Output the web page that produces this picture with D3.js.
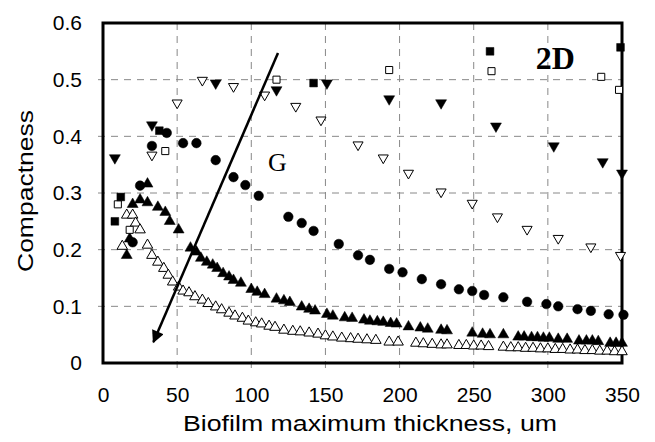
<!DOCTYPE html>
<html>
<head>
<meta charset="utf-8">
<script src="https://cdn.jsdelivr.net/npm/d3@7"></script>
<style>
  body { margin: 0; background: #fff; }
  svg { display: block; }
</style>
</head>
<body>
<div id="chart"></div>
<script>
// values: [thickness (um), compactness]
var sqFilled = [[8,0.25],[12,0.293],[38,0.41],[142,0.494],[261,0.55],[349,0.557]];
var sqOpen = [[10,0.28],[18,0.235],[42,0.374],[117,0.50],[193,0.517],[262,0.515],[336,0.505],[348,0.482]];
var triDownFilled = [[8,0.362],[33,0.42],[76,0.494],[117,0.482],[151,0.494],[193,0.466],[228,0.459],[265,0.418],[304,0.383],[337,0.355],[350,0.335]];
var triDownOpen = [[33,0.367],[50,0.459],[67,0.499],[88,0.488],[109,0.473],[130,0.453],[147,0.429],[172,0.385],[189,0.362],[206,0.335],[228,0.302],[249,0.282],[266,0.258],[286,0.236],[307,0.22],[329,0.205],[349,0.19]];
var circles = [[20,0.213],[25,0.313],[33,0.383],[43,0.406],[54,0.388],[63,0.388],[76,0.358],[88,0.328],[96,0.314],[105,0.295],[125,0.258],[134,0.247],[142,0.233],[159,0.21],[172,0.19],[180,0.182],[193,0.166],[202,0.16],[215,0.148],[228,0.139],[240,0.13],[249,0.127],[257,0.12],[270,0.116],[286,0.108],[299,0.104],[307,0.1],[320,0.095],[329,0.092],[341,0.086],[351,0.085]];
var triUpFilled = [[16,0.19],[18,0.219],[20,0.28],[25,0.288],[30,0.316],[30,0.283],[37,0.275],[42,0.266],[45,0.25],[51,0.235],[59,0.203],[63,0.196],[66,0.185],[70,0.178],[74,0.173],[77,0.167],[81,0.158],[85,0.152],[88,0.146],[93,0.141],[100,0.13],[104,0.125],[109,0.121],[117,0.113],[122,0.11],[126,0.107],[134,0.099],[139,0.095],[143,0.092],[151,0.086],[155,0.083],[163,0.08],[168,0.079],[176,0.076],[180,0.074],[185,0.073],[189,0.072],[194,0.07],[198,0.069],[206,0.064],[214,0.062],[219,0.06],[228,0.058],[232,0.057],[249,0.053],[256,0.051],[261,0.05],[270,0.05],[280,0.046],[284,0.046],[289,0.045],[293,0.045],[297,0.044],[301,0.044],[307,0.042],[313,0.042],[321,0.039],[326,0.039],[330,0.039],[334,0.038],[342,0.035],[346,0.035],[350,0.035]];
var triUpOpen = [[13,0.206],[16,0.261],[20,0.261],[22,0.247],[25,0.235],[30,0.208],[33,0.19],[37,0.178],[41,0.167],[44,0.155],[47,0.143],[51,0.134],[54,0.127],[58,0.124],[62,0.117],[67,0.111],[71,0.105],[76,0.099],[80,0.094],[85,0.088],[89,0.083],[94,0.079],[98,0.074],[103,0.071],[107,0.069],[112,0.065],[116,0.063],[122,0.058],[128,0.056],[133,0.055],[139,0.053],[145,0.051],[150,0.048],[155,0.046],[161,0.044],[167,0.043],[172,0.042],[178,0.041],[184,0.04],[193,0.037],[199,0.037],[211,0.035],[216,0.034],[222,0.033],[228,0.032],[232,0.032],[240,0.031],[245,0.031],[250,0.03],[255,0.03],[260,0.029],[270,0.028],[275,0.027],[280,0.027],[285,0.026],[290,0.026],[295,0.025],[300,0.025],[305,0.024],[310,0.024],[315,0.023],[320,0.023],[325,0.022],[330,0.022],[335,0.021],[340,0.021],[345,0.02],[350,0.02]];

var xTicks = [0, 50, 100, 150, 200, 250, 300, 350];
var yTicks = [0, 0.1, 0.2, 0.3, 0.4, 0.5, 0.6];
var arrowFrom = [118, 0.547], arrowTo = [34, 0.037];

var W = 655, H = 442;
var margin = {top: 23, right: 33, bottom: 79, left: 103},
    width = W - margin.left - margin.right,
    height = H - margin.top - margin.bottom;

var svg = d3.select("#chart").append("svg").attr("width", W).attr("height", H);
var g = svg.append("g").attr("transform", "translate(" + margin.left + "," + margin.top + ")");

var x = d3.scaleLinear().domain([0, 350]).range([0, width]);
var y = d3.scaleLinear().domain([0, 0.6]).range([height, 0]);

// dashed grid
g.append("g").selectAll("line").data(xTicks.slice(1, -1)).enter().append("line")
  .attr("x1", function (d) { return x(d); }).attr("x2", function (d) { return x(d); })
  .attr("y1", 0).attr("y2", height + 5)
  .attr("stroke", "#888").attr("stroke-width", 1).attr("stroke-dasharray", "7,6");
g.append("g").selectAll("line").data(yTicks.slice(1, -1)).enter().append("line")
  .attr("x1", -5).attr("x2", width)
  .attr("y1", function (d) { return y(d); }).attr("y2", function (d) { return y(d); })
  .attr("stroke", "#888").attr("stroke-width", 1).attr("stroke-dasharray", "7,6");

// axes
var xAxis = g.append("g").attr("transform", "translate(0," + height + ")")
  .call(d3.axisBottom(x).tickValues(xTicks).tickSize(0).tickPadding(24).tickFormat(d3.format("d")));
var yAxis = g.append("g")
  .call(d3.axisLeft(y).tickValues(yTicks).tickSize(0).tickPadding(21).tickFormat(function (d) { return d === 0 ? "0" : d3.format(".1f")(d); }));
[xAxis, yAxis].forEach(function (a) {
  a.select(".domain").remove();
  a.selectAll("text").attr("fill", "#000").style("font-family", "'Liberation Sans', Arial, sans-serif").style("font-size", "21px");
});

// frame
g.append("rect").attr("x", 0).attr("y", 0).attr("width", width).attr("height", height)
  .attr("fill", "none").attr("stroke", "#000").attr("stroke-width", 3);

// markers
var sym = function (type, size) { return d3.symbol().type(type).size(size)(); };
function series(data, type, size, filled, rot) {
  g.append("g").selectAll("path").data(data).enter().append("path")
    .attr("d", sym(type, size))
    .attr("transform", function (d) { return "translate(" + x(d[0]) + "," + y(d[1]) + ")" + (rot ? " rotate(180)" : ""); })
    .attr("fill", filled ? "#000" : "#fff")
    .attr("stroke", "#000").attr("stroke-width", filled ? 0.5 : 1);
}
series(triUpOpen, d3.symbolTriangle, 48, false, false);
series(triUpFilled, d3.symbolTriangle, 52, true, false);
series(triDownOpen, d3.symbolTriangle, 44, false, true);
series(triDownFilled, d3.symbolTriangle, 52, true, true);
series(sqOpen, d3.symbolSquare, 50, false, false);
series(sqFilled, d3.symbolSquare, 60, true, false);
series(circles, d3.symbolCircle, 72, true, false);

// arrow
svg.append("defs").append("marker").attr("id", "ah")
  .attr("viewBox", "0 0 10 10").attr("refX", 9).attr("refY", 5)
  .attr("markerWidth", 6).attr("markerHeight", 5).attr("markerUnits", "strokeWidth")
  .attr("orient", "auto")
  .append("path").attr("d", "M0,0L10,5L0,10Z").attr("fill", "#000");
g.append("line")
  .attr("x1", x(arrowFrom[0])).attr("y1", y(arrowFrom[1]))
  .attr("x2", x(arrowTo[0])).attr("y2", y(arrowTo[1]))
  .attr("stroke", "#000").attr("stroke-width", 2.5).attr("marker-end", "url(#ah)");

// labels
g.append("text").attr("x", x(117.6)).attr("y", y(0.355)).attr("dy", "0.35em")
  .attr("text-anchor", "middle").style("font-family", "'Liberation Serif', 'Times New Roman', serif")
  .style("font-size", "26px").text("G");
g.append("text").attr("x", x(305)).attr("y", y(0.538)).attr("dy", "0.35em")
  .attr("text-anchor", "middle").style("font-family", "'Liberation Serif', 'Times New Roman', serif")
  .style("font-size", "32px").style("font-weight", "bold").text("2D");

svg.append("text").attr("x", 370).attr("y", 431).attr("text-anchor", "middle")
  .style("font-family", "'Liberation Sans', Arial, sans-serif").style("font-size", "22px")
  .attr("textLength", 374).attr("lengthAdjust", "spacingAndGlyphs")
  .text("Biofilm maximum thickness, um");
svg.append("text").attr("transform", "translate(33,191) rotate(-90)").attr("text-anchor", "middle")
  .style("font-family", "'Liberation Sans', Arial, sans-serif").style("font-size", "22px")
  .attr("textLength", 162).attr("lengthAdjust", "spacingAndGlyphs")
  .text("Compactness");
</script>
</body>
</html>
